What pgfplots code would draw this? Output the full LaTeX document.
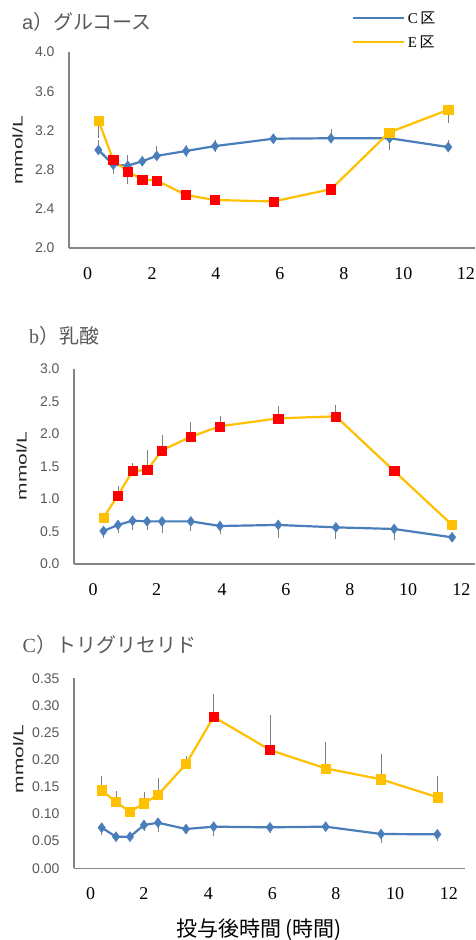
\documentclass[border=0pt]{standalone}
\usepackage{pgfplots}
\pgfplotsset{compat=1.18}
\usepackage{graphicx}
\usepackage{fontspec}
\setmainfont{Liberation Serif}
\newfontfamily\sansf{Liberation Sans}
\newfontfamily\cjk{Noto Sans CJK JP}
\definecolor{cblue}{HTML}{4A7EBB}
\definecolor{cyel}{HTML}{FFC000}
\definecolor{cred}{HTML}{FF0000}
\definecolor{axgray}{HTML}{858585}
\definecolor{tgray}{HTML}{595959}
\definecolor{egray}{HTML}{7F7F7F}
\pgfplotsset{
  panel/.style={
    scale only axis, anchor=south west,
    axis lines*=left, axis line style={-, axgray, line width=1.6pt},
    major tick length=0pt, tick style={draw=none},
    xticklabels={0,2,4,6,8,10,12},
    xticklabel style={font=\fontsize{18}{20}\selectfont, text=black, yshift=-16pt},
    yticklabel style={font=\sansf\fontsize{14}{16}\selectfont, text=tgray, xshift=-11pt},
    clip=false,
  },
  errs/.style={
    error bars/y explicit,
    error bars/error bar style={egray, line width=0.9pt, solid},
    error bars/error mark options={egray, mark size=2.6pt, line width=0.9pt, solid},
  },
  cline/.style={cblue, line width=2.2pt, mark=diamond*, mark size=5pt,
    mark options={solid, fill=cblue, draw=cblue, line width=0.4pt}, errs},
  eline/.style={cyel, line width=2.2pt, mark=none, errs},
  emark/.style={only marks, mark=square*, mark size=4.6pt,
    mark options={fill=cyel, draw=cyel, line width=0.4pt}, forget plot},
  rmark/.style={only marks, mark=square*, mark size=4.6pt,
    mark options={fill=cred, draw=cred, line width=0.4pt}, forget plot},
}
\begin{document}
\begin{tikzpicture}
\useasboundingbox (0,0) rectangle (475pt,-940pt);

% ---------------- panel a ----------------
\begin{axis}[panel, at={(69pt,-248pt)}, width=406pt, height=196pt,
  xmin=-0.644, xmax=12.24, ymin=2, ymax=4,
  xtick={-0.05,1.99,4.02,6.05,8.08,9.97,11.95},
  ytick={2.0,2.4,2.8,3.2,3.6,4.0}, yticklabels={2.0,2.4,2.8,3.2,3.6,4.0},
  legend style={at={(axis description cs:0.695,1.112)}, anchor=west, draw=none, fill=none,
    font=\fontsize{15}{17}\selectfont, row sep=5pt, inner sep=0pt, nodes={inner sep=3pt}},
  legend cell align=left,
  legend image code/.code={\draw[#1, line width=2.6pt] (0pt,0pt) -- (51pt,0pt);},
]
\addplot[cline, error bars/y dir=both] coordinates {
 (0.29,3.00)  += (0,0.075) -= (0,0)
 (0.76,2.85)  += (0,0)     -= (0,0.065)
 (1.22,2.84)  += (0,0.08)  -= (0,0)
 (1.68,2.885) += (0,0.03)  -= (0,0.02)
 (2.14,2.94)  += (0,0.07)  -= (0,0)
 (3.07,2.99)  += (0,0.035) -= (0,0.03)
 (3.99,3.04)  += (0,0.035) -= (0,0.03)
 (5.84,3.115) += (0,0.02)  -= (0,0.02)
 (7.67,3.12)  += (0,0.07)  -= (0,0)
 (9.53,3.12)  += (0,0)     -= (0,0.09)
 (11.39,3.03) += (0,0.045) -= (0,0)
};
\addlegendentry{C\,{\cjk 区}}
\addplot[eline, error bars/y dir=minus] coordinates {
 (0.29,3.30)  -= (0,0.15)
 (0.76,2.90)  -= (0,0)
 (1.22,2.78)  -= (0,0.105)
 (1.68,2.70)  -= (0,0)
 (2.14,2.69)  -= (0,0)
 (3.07,2.54)  -= (0,0)
 (3.99,2.49)  -= (0,0)
 (5.84,2.475) -= (0,0)
 (7.67,2.60)  -= (0,0)
 (9.52,3.18)  -= (0,0)
 (11.39,3.41) -= (0,0.11)
};
\addlegendentry{E\,{\cjk 区}}
\addplot[emark] coordinates {(0.29,3.30) (9.52,3.18) (11.39,3.41)};
\addplot[rmark] coordinates {(0.76,2.90) (1.22,2.78) (1.68,2.70) (2.14,2.69) (3.07,2.54) (3.99,2.49) (5.84,2.475) (7.67,2.60)};
\end{axis}

% ---------------- panel b ----------------
\begin{axis}[panel, at={(74pt,-564pt)}, width=401pt, height=195.3pt,
  xmin=-0.73, xmax=12.21, ymin=0, ymax=3,
  xtick={-0.11,1.94,4.05,6.11,8.17,10.05,11.77},
  ytick={0,0.5,1,1.5,2,2.5,3}, yticklabels={0.0,0.5,1.0,1.5,2.0,2.5,3.0},
]
\addplot[cline, error bars/y dir=minus] coordinates {
 (0.22,0.507) -= (0,0.06)
 (0.69,0.60)  -= (0,0.09)
 (1.16,0.665) -= (0,0.10)
 (1.63,0.655) -= (0,0.10)
 (2.11,0.655) -= (0,0.145)
 (3.04,0.655) -= (0,0.11)
 (3.98,0.584) -= (0,0.08)
 (5.86,0.60)  -= (0,0.165)
 (7.72,0.563) -= (0,0.14)
 (9.60,0.538) -= (0,0.13)
 (11.47,0.41) -= (0,0.02)
};
\addplot[eline, error bars/y dir=plus] coordinates {
 (0.22,0.711) += (0,0.02)
 (0.69,1.055) += (0,0.10)
 (1.16,1.43)  += (0,0.08)
 (1.63,1.444) += (0,0.26)
 (2.11,1.746) += (0,0.19)
 (3.04,1.956) += (0,0.18)
 (3.98,2.115) += (0,0.12)
 (5.86,2.238) += (0,0.15)
 (7.72,2.268) += (0,0.14)
 (9.60,1.43)  += (0,0.03)
 (11.47,0.60) += (0,0.02)
};
\addplot[emark] coordinates {(0.22,0.711) (11.47,0.60)};
\addplot[rmark] coordinates {(0.69,1.055) (1.16,1.43) (1.63,1.444) (2.11,1.746) (3.04,1.956) (3.98,2.115) (5.86,2.238) (7.72,2.268) (9.60,1.43)};
\end{axis}

% ---------------- panel c ----------------
\begin{axis}[panel, at={(74pt,-868.3pt)}, width=391pt, height=190pt,
  xmin=-0.47, xmax=12.38, ymin=0, ymax=0.35,
  xtick={0.08,1.83,3.95,6.05,8.14,10.08,11.85},
  ytick={0,0.05,0.1,0.15,0.2,0.25,0.3,0.35},
  yticklabels={0.00,0.05,0.10,0.15,0.20,0.25,0.30,0.35},
]
\addplot[cline, error bars/y dir=minus] coordinates {
 (0.44,0.0748)  -= (0,0.009)
 (0.91,0.0582)  -= (0,0.004)
 (1.37,0.0582)  -= (0,0.004)
 (1.83,0.0797)  -= (0,0.006)
 (2.29,0.084)   -= (0,0.013)
 (3.21,0.0724)  -= (0,0.004)
 (4.12,0.0767)  -= (0,0.013)
 (5.97,0.0755)  -= (0,0.005)
 (7.80,0.0767)  -= (0,0.004)
 (9.62,0.0632)  -= (0,0.012)
 (11.47,0.0626) -= (0,0.008)
};
\addplot[eline, error bars/y dir=plus] coordinates {
 (0.44,0.144)  += (0,0.021)
 (0.91,0.122)  += (0,0.015)
 (1.37,0.104)  += (0,0.005)
 (1.83,0.120)  += (0,0.015)
 (2.29,0.135)  += (0,0.026)
 (3.21,0.192)  += (0,0.010)
 (4.12,0.279)  += (0,0.037)
 (5.97,0.218)  += (0,0.060)
 (7.80,0.184)  += (0,0.043)
 (9.62,0.164)  += (0,0.041)
 (11.47,0.131) += (0,0.034)
};
\addplot[emark] coordinates {(0.44,0.144) (0.91,0.122) (1.37,0.104) (1.83,0.120) (2.29,0.135) (3.21,0.192) (7.80,0.184) (9.62,0.164) (11.47,0.131)};
\addplot[rmark] coordinates {(4.12,0.279) (5.97,0.218)};
\end{axis}

% ---------------- texts ----------------
\node[anchor=west, inner sep=0pt, text=tgray, font=\fontsize{20}{22}\selectfont] at (22pt,-22pt) {{\sansf a}{\cjk ）グルコース}};
\node[anchor=west, inner sep=0pt, text=tgray, font=\fontsize{20}{22}\selectfont] at (29pt,-336pt) {b{\cjk ）乳酸}};
\node[anchor=west, inner sep=0pt, text=tgray, font=\fontsize{20}{22}\selectfont] at (22.5pt,-645pt) {C{\cjk ）トリグリセリド}};
\node[rotate=90, inner sep=0pt, text=black!85, font=\sansf\fontsize{14}{16}\selectfont] at (17.7pt,-150.5pt) {\scalebox{1.5}[1]{mmol/L}};
\node[rotate=90, inner sep=0pt, text=black!85, font=\sansf\fontsize{14}{16}\selectfont] at (21.5pt,-466pt) {\scalebox{1.5}[1]{mmol/L}};
\node[rotate=90, inner sep=0pt, text=black!85, font=\sansf\fontsize{14}{16}\selectfont] at (18.3pt,-759pt) {\scalebox{1.5}[1]{mmol/L}};
\node[inner sep=0pt, text=black, font=\cjk\fontsize{21}{23}\selectfont] at (258.7pt,-930pt) {投与後時間\hspace{4pt}(時間)};
\end{tikzpicture}
\end{document}
